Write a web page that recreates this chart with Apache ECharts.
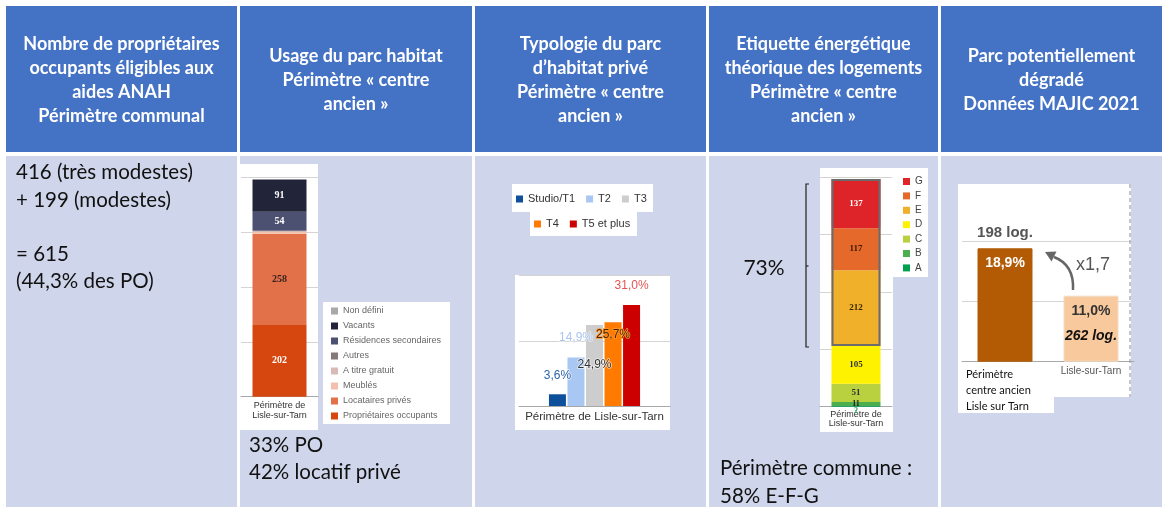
<!DOCTYPE html>
<html>
<head>
<meta charset="utf-8">
<script src="https://cdn.jsdelivr.net/npm/echarts@6/dist/echarts.min.js"></script>
<style>
  html, body { margin: 0; padding: 0; background: #fff; }
  #chart { width: 1162px; height: 507px; }
</style>
</head>
<body>
<div id="chart"></div>
<script>
// --- Usage du parc habitat (stacked, bottom to top)
const usageCategory = ['Périmètre de\nLisle-sur-Tarn'];
const usageNames = ['Propriétaires occupants', 'Locataires privés', 'Meublés', 'A titre gratuit',
  'Autres', 'Résidences secondaires', 'Vacants', 'Non défini'];
const usageValues = [202, 258, 5, 3, 0, 54, 91, 0];

// --- Typologie du parc d'habitat privé (%)
const typoCategory = ['Périmètre de Lisle-sur-Tarn'];
const typoNames = ['Studio/T1', 'T2', 'T3', 'T4', 'T5 et plus'];
const typoValues = [3.6, 14.9, 24.9, 25.7, 31.0];

// --- Etiquette énergétique (stacked, bottom to top)
const dpeCategory = ['Périmètre de\nLisle-sur-Tarn'];
const dpeNames = ['A', 'B', 'C', 'D', 'E', 'F', 'G'];
const dpeValues = [2, 11, 51, 105, 212, 117, 137];
const dpeHighlighted = ['E', 'F', 'G'];

// --- Parc potentiellement dégradé
const parcCategories = ['Périmètre\ncentre ancien\nLisle sur Tarn', 'Lisle-sur-Tarn'];
const parcShares = [18.9, 11.0];
const parcLogements = [198, 262];

// colours
const usageColors = ['#d6460f', '#e2714a', '#f2c0ad', '#d8bab6', '#86797a', '#4c5171', '#22243a', '#a9a9a9'];
const usageLabelColors = ['#fff', '#3a2220', '#333', '#333', '#333', '#fff', '#fff', '#333'];
const typoColors = ['#0d4f9b', '#a9c7f3', '#cdcdcd', '#ff7b00', '#cc0000'];
const dpeColors = ['#00a04f', '#4cae4f', '#b9d03f', '#fff200', '#f0b02a', '#e5692b', '#de2329'];
const dpeLabelColors = ['#2ca05a', '#222', '#333', '#333', '#3b2800', '#3b1a00', '#fff'];
const parcColors = ['#b35a05', '#f8c99c'];

const pct = (v) => v.toFixed(1).replace('.', ',') + '%';
const sum = (arr) => arr.reduce((a, b) => a + b, 0);

const HEAD = '#4472c4';
const BODY = '#cfd5ea';
const FONT = 'Lato, "Open Sans", sans-serif';
const ARIAL = '"Liberation Sans", Arial, sans-serif';
const SERIF = '"Liberation Serif", "DejaVu Serif", serif';

const columns = [
  { x: 6, w: 231 },
  { x: 240, w: 232 },
  { x: 475, w: 231 },
  { x: 709, w: 229 },
  { x: 941, w: 221 },
];
const headers = [
  'Nombre de propriétaires\noccupants éligibles aux\naides ANAH\nPérimètre communal',
  'Usage du parc habitat\nPérimètre « centre\nancien »',
  'Typologie du parc\nd’habitat privé\nPérimètre « centre\nancien »',
  'Etiquette énergétique\nthéorique des logements\nPérimètre « centre\nancien »',
  'Parc potentiellement\ndégradé\nDonnées MAJIC 2021',
];

const rect = (x, y, width, height, fill, z) => ({
  type: 'rect', z, silent: true, shape: { x, y, width, height }, style: { fill },
});
const text = (x, y, str, opts) => ({
  type: 'text', z: 100, silent: true, x, y,
  style: Object.assign({ text: str, fill: '#111', font: '20.5px ' + FONT, lineHeight: 27.3 }, opts),
});

const graphics = [];
columns.forEach((c, i) => {
  graphics.push(rect(c.x, 6, c.w, 146, HEAD, -100));
  graphics.push(rect(c.x, 156, c.w, 351, BODY, -100));
  graphics.push(text(c.x + c.w / 2, 80, headers[i], {
    fill: '#fff', font: 'bold 18px ' + FONT, lineHeight: 24,
    align: 'center', verticalAlign: 'middle',
  }));
});

// white chart panels
[
  [240, 164, 78, 266], [323, 302, 127, 122],
  [512, 184, 141, 28], [530, 211, 107, 25], [515, 275, 155, 155],
  [820, 168, 73, 264], [892, 168, 36, 109],
  [958, 184, 173, 213], [958, 396, 96, 17],
].forEach((r) => graphics.push(rect(r[0], r[1], r[2], r[3], '#fff', -50)));

graphics.push(
  text(16, 159, '416 (très modestes)\n+ 199 (modestes)\n\n= 615\n(44,3% des PO)', { verticalAlign: 'top' }),
  text(249, 431.5, '33% PO\n42% locatif privé', { verticalAlign: 'top' }),
  text(720, 455, 'Périmètre commune :\n58% E-F-G', { verticalAlign: 'top' }),
  text(764, 268, '73%', { align: 'center', verticalAlign: 'middle', font: '21px ' + FONT }),
  text(1093, 265, 'x1,7', { align: 'center', verticalAlign: 'middle', font: '18px ' + ARIAL, fill: '#555' }),
  {
    type: 'polyline', z: 100, silent: true,
    shape: { points: [[809, 184], [806, 184], [806, 347], [809, 347]] },
    style: { stroke: '#222', lineWidth: 1.2, fill: null },
  },
  {
    type: 'line', z: 100, silent: true,
    shape: { x1: 806, y1: 266, x2: 808.5, y2: 266 },
    style: { stroke: '#222', lineWidth: 1.2 },
  },
  {
    type: 'line', z: 100, silent: true,
    shape: { x1: 1130, y1: 184, x2: 1130, y2: 397 },
    style: { stroke: '#8c8c8c', lineWidth: 1, lineDash: [4, 3] },
  },
  {
    type: 'bezierCurve', z: 100, silent: true,
    shape: { x1: 1073, y1: 290, cpx1: 1074, cpy1: 272, cpx2: 1067, cpy2: 262, x2: 1054, y2: 257 },
    style: { stroke: '#666', lineWidth: 2.5, fill: null },
  },
  {
    type: 'polygon', z: 100, silent: true,
    shape: { points: [[1045, 252], [1056.5, 251.5], [1051.5, 261.5]] },
    style: { fill: '#666' },
  }
);

const hiddenAxis = {
  type: 'value', min: 0, axisLabel: { show: false }, axisLine: { show: false },
  axisTick: { show: false }, splitLine: { lineStyle: { color: '#d4d4d4' } },
};
const catAxis = (gridIndex, data, labelOpts) => ({
  type: 'category', gridIndex, data,
  axisTick: { show: false },
  axisLine: { lineStyle: { color: '#a8a8a8' } },
  axisLabel: Object.assign({ interval: 0, color: '#333', fontFamily: ARIAL, fontSize: 9, lineHeight: 10, margin: 4 }, labelOpts),
});

const series = [];

// usage
usageNames.forEach((name, i) => {
  series.push({
    type: 'bar', name, stack: 'usage', xAxisIndex: 0, yAxisIndex: 0, barWidth: 54,
    data: [usageValues[i]],
    itemStyle: { color: usageColors[i] },
    label: {
      show: usageValues[i] >= 20, position: 'inside', color: usageLabelColors[i],
      fontFamily: SERIF, fontWeight: 'bold', fontSize: 10,
    },
  });
});

// typologie
const typoLabel = [
  { position: 'top', offset: [0, -8], color: '#2e64a8', textBorderColor: 'rgba(255,255,255,0.8)' },
  { position: 'top', offset: [0, -9], color: '#a9c5ee', textBorderColor: 'rgba(255,255,255,0.6)' },
  { position: 'insideTop', offset: [0, 29], color: '#333', textBorderColor: 'rgba(255,255,255,0.7)' },
  { position: 'insideTop', offset: [0, 1], color: '#4a2200', textBorderColor: '#ff9a30' },
  { position: 'top', offset: [0, -8], color: '#e25454', textBorderColor: 'rgba(255,255,255,0.8)' },
];
typoNames.forEach((name, i) => {
  series.push({
    type: 'bar', name, xAxisIndex: 1, yAxisIndex: 1, barWidth: 17, barGap: '9%',
    data: [typoValues[i]],
    itemStyle: { color: typoColors[i] },
    label: Object.assign({
      show: true, fontFamily: ARIAL, fontSize: 12, textBorderWidth: 1.5,
      formatter: (p) => pct(p.value),
    }, typoLabel[i]),
  });
});

// DPE
dpeNames.forEach((name, i) => {
  series.push({
    type: 'bar', name, stack: 'dpe', xAxisIndex: 2, yAxisIndex: 2, barWidth: 49, barGap: '-100%',
    data: [dpeValues[i]],
    itemStyle: { color: dpeColors[i] },
    label: {
      show: true, position: dpeValues[i] < 5 ? 'bottom' : 'inside', distance: 0,
      color: dpeLabelColors[i], fontFamily: SERIF, fontWeight: 'bold', fontSize: dpeValues[i] < 20 ? 8 : 9,
    },
  });
});
const hiStart = dpeNames.indexOf(dpeHighlighted[0]);
series.push(
  {
    type: 'bar', name: 'dpe-base', stack: 'frame', xAxisIndex: 2, yAxisIndex: 2, barWidth: 49, barGap: '-100%',
    data: [sum(dpeValues.slice(0, hiStart))], itemStyle: { color: 'rgba(0,0,0,0)' }, silent: true,
  },
  {
    type: 'bar', name: 'dpe-frame', stack: 'frame', xAxisIndex: 2, yAxisIndex: 2, barWidth: 49, barGap: '-100%',
    data: [sum(dpeValues.slice(hiStart))], silent: true,
    itemStyle: { color: 'rgba(0,0,0,0)', borderColor: '#6b6b6b', borderWidth: 2 },
  }
);

// parc dégradé
series.push(
  {
    type: 'bar', name: 'parc', xAxisIndex: 3, yAxisIndex: 3, barWidth: 55, barGap: '-100%',
    data: parcShares.map((v, i) => ({ value: v, itemStyle: { color: parcColors[i], borderColor: i ? '#f3dcc6' : parcColors[i], borderWidth: 1 } })),
    label: {
      show: true, position: 'insideTop', distance: 3, fontFamily: ARIAL,
      formatter: (p) => p.dataIndex === 0 ? '{w|' + pct(p.value) + '}'
        : '{d|' + pct(p.value) + '}\n{i|' + parcLogements[p.dataIndex] + ' log.}',
      rich: {
        w: { color: '#fff', fontWeight: 'bold', fontSize: 14, fontFamily: ARIAL, lineHeight: 24 },
        d: { color: '#333', fontWeight: 'bold', fontSize: 14, fontFamily: ARIAL, lineHeight: 24 },
        i: { color: '#111', fontWeight: 'bold', fontStyle: 'italic', fontSize: 14, fontFamily: ARIAL, lineHeight: 26 },
      },
    },
  },
  {
    type: 'bar', name: 'parc-top', xAxisIndex: 3, yAxisIndex: 3, barWidth: 55, barGap: '-100%', silent: true,
    data: parcShares.map((v, i) => ({
      value: v,
      label: { show: i === 0, formatter: parcLogements[i] + ' log.' },
    })),
    itemStyle: { color: 'rgba(0,0,0,0)' },
    label: { position: 'top', distance: 8, color: '#555', fontWeight: 'bold', fontSize: 15, fontFamily: ARIAL },
  }
);

const legendBase = {
  selectedMode: false, icon: 'rect', itemWidth: 7, itemHeight: 7, padding: 0,
};

const option = {
  animation: false,
  backgroundColor: '#fff',
  graphic: graphics,
  grid: [
    { left: 241, top: 177, width: 77, height: 219.7, outerBoundsMode: 'none' },
    { left: 519, top: 275.7, width: 151, height: 130.3, outerBoundsMode: 'none' },
    { left: 820, top: 177.3, width: 72, height: 229.4, outerBoundsMode: 'none' },
    { left: 962, top: 181.7, width: 172, height: 180, outerBoundsMode: 'none' },
  ],
  xAxis: [
    catAxis(0, usageCategory, {}),
    catAxis(1, typoCategory, { fontSize: 11.5, margin: 6 }),
    catAxis(2, dpeCategory, { lineHeight: 9.5, margin: 3 }),
    catAxis(3, parcCategories, { margin: 5 }),
  ],
  yAxis: [
    Object.assign({ gridIndex: 0, max: 620, interval: 155 }, hiddenAxis),
    Object.assign({ gridIndex: 1, max: 40, interval: 20 }, hiddenAxis),
    Object.assign({ gridIndex: 2, max: 640, interval: 160 }, hiddenAxis),
    Object.assign({ gridIndex: 3, max: 30, interval: 10 }, hiddenAxis,
      { splitLine: { showMaxLine: false, lineStyle: { color: '#d4d4d4' } } }),
  ],
  legend: [
    Object.assign({
      data: usageNames.slice().reverse(), orient: 'vertical', left: 331, top: 305, itemGap: 3,
      textStyle: { fontSize: 9, color: '#666', fontFamily: ARIAL, lineHeight: 12 },
    }, legendBase),
    Object.assign({
      data: typoNames.slice(0, 3), orient: 'horizontal', left: 516, top: 193, itemGap: 11,
      textStyle: { fontSize: 11, color: '#333', fontFamily: ARIAL, lineHeight: 12 },
    }, legendBase),
    Object.assign({
      data: typoNames.slice(3), orient: 'horizontal', left: 534, top: 218, itemGap: 11,
      textStyle: { fontSize: 11, color: '#333', fontFamily: ARIAL, lineHeight: 12 },
    }, legendBase),
    Object.assign({
      data: dpeNames.slice().reverse(), orient: 'vertical', left: 903, top: 175.5, itemGap: 2.4,
      textStyle: { fontSize: 10, color: '#444', fontFamily: ARIAL, lineHeight: 12 },
    }, legendBase),
  ],
  series,
};

// left-aligned three-line label under the first bar
option.xAxis[3].axisLabel.formatter = (value, index) => index === 0
  ? value.split('\n').map((l) => '{a|' + l + '}').join('\n')
  : '{b|' + value + '}';
option.xAxis[3].axisLabel.rich = {
  a: { width: 78, align: 'left', fontSize: 11, lineHeight: 16, color: '#111', fontFamily: FONT },
  b: { fontSize: 10, color: '#555', fontFamily: ARIAL, lineHeight: 12, verticalAlign: 'top' },
};

const chart = echarts.init(document.getElementById('chart'), null, { renderer: 'canvas' });
chart.setOption(option);
window.addEventListener('resize', chart.resize);
</script>
</body>
</html>
